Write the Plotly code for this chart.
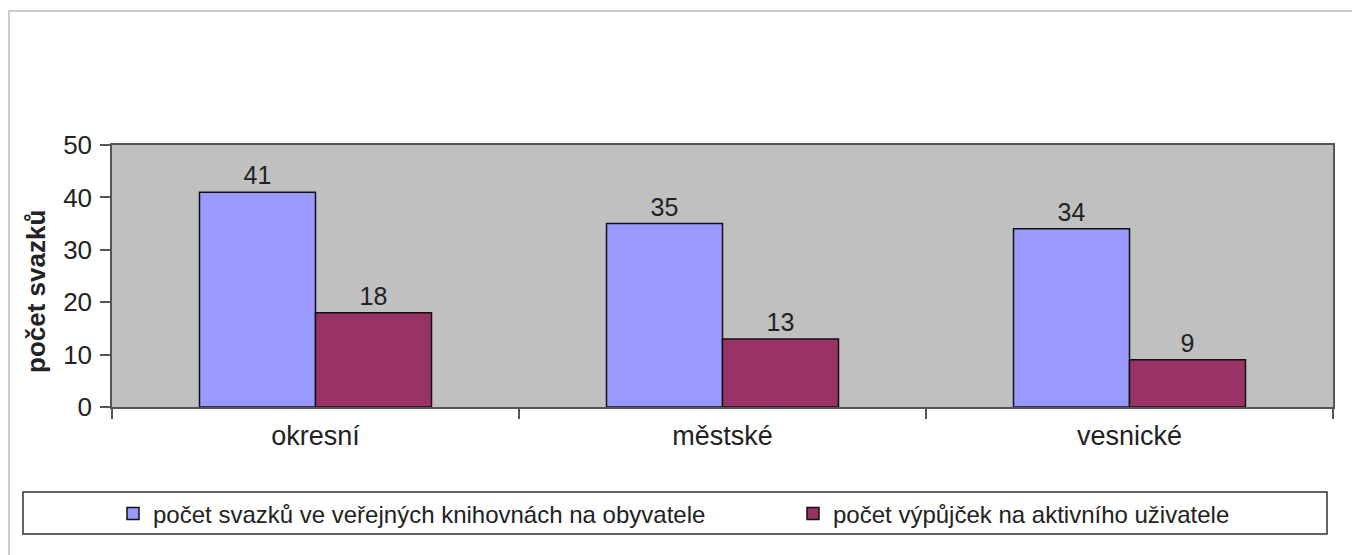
import plotly.graph_objects as go

categories = ["okresní", "městské", "vesnické"]
series_names = ["počet svazků ve veřejných knihovnách na obyvatele",
                "počet výpůjček na aktivního uživatele"]
svazky = [41, 35, 34]
vypujcky = [18, 13, 9]
y_ticks = [0, 10, 20, 30, 40, 50]
y_title = "počet svazků"

FONT = "Liberation Sans, Arial, sans-serif"
TXT = "#222222"

# page offset (body margin) of the rendered html
OFF = 8
W, H = 1352, 547
L, T = 112 - OFF, 145 - OFF
R = W - (1333 - OFF)
B = H - (407 - OFF)
pw, ph = W - L - R, H - T - B


def px(x_screen):
    return (x_screen - OFF - L) / pw


def py(y_screen):
    return (H - B - (y_screen - OFF)) / ph


fig = go.Figure()
fig.add_trace(go.Bar(
    x=categories, y=svazky, name=series_names[0], legend="legend",
    marker=dict(color="#9999FF", line=dict(color="#111111", width=1.5)),
    text=[str(v) for v in svazky], textposition="outside",
    textfont=dict(family=FONT, size=25, color=TXT), cliponaxis=False,
))
fig.add_trace(go.Bar(
    x=categories, y=vypujcky, name=series_names[1], legend="legend2",
    marker=dict(color="#993366", line=dict(color="#111111", width=1.5)),
    text=[str(v) for v in vypujcky], textposition="outside",
    textfont=dict(family=FONT, size=25, color=TXT), cliponaxis=False,
))

legend_common = dict(
    orientation="h", xanchor="left", y=py(514), yanchor="middle",
    bgcolor="rgba(0,0,0,0)", borderwidth=0,
    font=dict(family=FONT, size=24, color=TXT),
    itemclick=False, itemdoubleclick=False,
)

fig.update_layout(
    width=W, height=H,
    margin=dict(l=L, r=R, t=T, b=B, autoexpand=False),
    paper_bgcolor="white",
    plot_bgcolor="#C0C0C0",
    barmode="group",
    bargap=0.43,
    bargroupgap=0,
    font=dict(family=FONT, size=24, color=TXT),
    showlegend=True,
    legend=dict(x=px(113), **legend_common),
    legend2=dict(x=px(793), **legend_common),
    xaxis=dict(
        showgrid=False, showline=True, linecolor="#555555", linewidth=1.5,
        mirror=True, ticks="outside", tickson="boundaries", ticklen=10,
        tickcolor="#555555", tickwidth=1.5,
        tickfont=dict(family=FONT, size=27, color=TXT),
        ticklabelstandoff=4,
    ),
    yaxis=dict(
        range=[0, 50], tickvals=y_ticks, showgrid=False,
        showline=True, linecolor="#555555", linewidth=1.5, mirror=True,
        ticks="outside", ticklen=10, tickcolor="#555555", tickwidth=1.5,
        tickfont=dict(family=FONT, size=26, color=TXT),
        ticklabelstandoff=3,
        zeroline=False,
    ),
    annotations=[
        dict(text="<b>" + y_title + "</b>", textangle=-90, showarrow=False,
             xref="paper", yref="paper", x=px(36), y=py(292),
             xanchor="center", yanchor="middle",
             font=dict(family=FONT, size=26, color=TXT)),
    ],
    shapes=[
        dict(type="rect", xref="paper", yref="paper",
             x0=px(9), x1=1.2, y0=-1.0, y1=py(11),
             line=dict(color="#CCCCCC", width=2), fillcolor="rgba(0,0,0,0)", layer="below"),
        dict(type="rect", xref="paper", yref="paper",
             x0=px(23), x1=px(1327), y0=py(534), y1=py(492),
             line=dict(color="#333333", width=1.5), fillcolor="rgba(0,0,0,0)"),
    ],
)

fig.write_html("out.html")
